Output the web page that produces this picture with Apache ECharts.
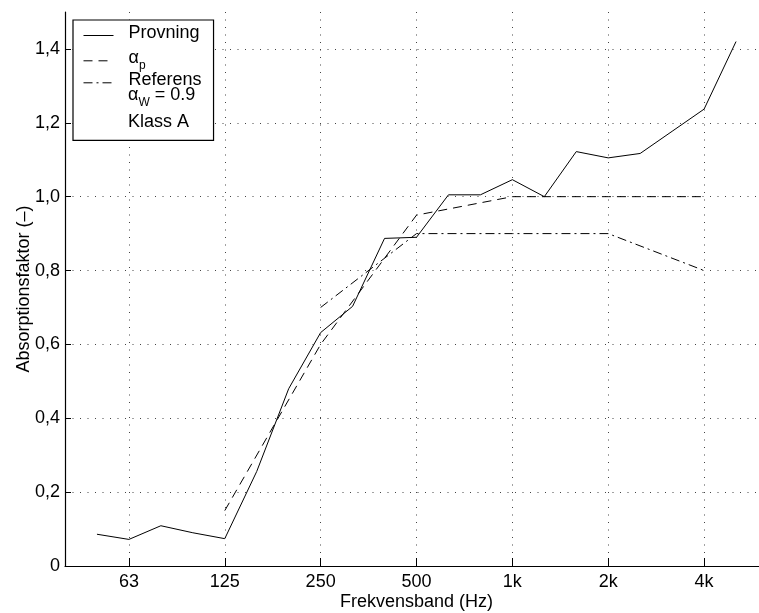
<!DOCTYPE html>
<html>
<head>
<meta charset="utf-8">
<title>Absorptionsfaktor</title>
<script src="https://cdn.jsdelivr.net/npm/echarts@6/dist/echarts.min.js"></script>
<style>
    html, body { margin: 0; padding: 0; background: #fff; }
    #chart { width: 759px; height: 613px; }
</style>
</head>
<body>
<div id="chart"></div>
<script>
// tersband 40 Hz .. 6.3 kHz (40 och 6.3k bara som marginal)
var bands = ['40', '50', '63', '80', '100', '125', '160', '200', '250', '315', '400', '500',
             '630', '800', '1k', '1.25k', '1.6k', '2k', '2.5k', '3.15k', '4k', '5k', '6.3k'];

// uppmätt absorptionsfaktor per tersband
var provning = [null, 0.086, 0.072, 0.109, 0.090, 0.074, 0.256, 0.480, 0.632, 0.703, 0.887, 0.890,
                1.005, 1.005, 1.046, 1.000, 1.122, 1.105, 1.117, 1.177, 1.237, 1.420, null];

// praktisk absorptionsfaktor, oktavband 125..4k
var alphaP = [null, null, null, null, null, 0.15, null, null, 0.60, null, null, 0.95,
              null, null, 1.00, null, null, 1.00, null, null, 1.00, null, null];

// förskjuten referenskurva, alfa_w = 0.9
var referens = [null, null, null, null, null, null, null, null, 0.70, null, null, 0.90,
                null, null, 0.90, null, null, 0.90, null, null, 0.80, null, null];

var yTicks = [0, 0.2, 0.4, 0.6, 0.8, 1.0, 1.2, 1.4];

var font = 'Liberation Sans';
var fontSize = 18;
var dotted = [1, 6.5];
var dashP = [9, 6];
var dashRef = [9, 4, 2, 4];

function octaveBand(index) {
    return index % 3 === 2;
}

var myChart = echarts.init(document.getElementById('chart'));

var option = {
    animation: false,
    backgroundColor: '#fff',
    textStyle: { fontFamily: font, fontSize: fontSize, color: '#000' },
    grid: { left: 65, top: 12, width: 703, bottom: 47, outerBoundsMode: 'none' },
    legend: {
        orient: 'vertical',
        left: 73,
        top: 20,
        padding: [3, 12, 45, 10],
        itemWidth: 30,
        itemHeight: 12,
        itemGap: -3,
        borderColor: '#000',
        borderWidth: 1.2,
        borderRadius: 0,
        backgroundColor: '#fff',
        itemStyle: { opacity: 0 },
        lineStyle: { width: 1 },
        data: ['Provning', 'αp', 'Referens'],
        formatter: function (name) {
            if (name === 'αp') return '{a|α}{s|p}';
            return name;
        },
        textStyle: {
            fontFamily: font,
            fontSize: fontSize,
            lineHeight: 20,
            color: '#000',
            padding: [0, 0, 5, 10],
            rich: {
                a: { fontFamily: font, fontSize: fontSize, lineHeight: 20, color: '#000', padding: [0, 0, 1.4, 0] },
                s: { fontFamily: font, fontSize: 12, lineHeight: 14, color: '#000', padding: [14.6, 0, 0, 0] }
            }
        }
    },
    graphic: [
        {
            type: 'text', x: 128, y: 95, z: 10,
            style: {
                text: '{a|α}{s|W}{a| = 0.9}',
                verticalAlign: 'middle',
                fill: '#000',
                font: fontSize + 'px "' + font + '"',
                rich: {
                    a: { fontFamily: font, fontSize: fontSize, lineHeight: 20, fill: '#000' },
                    s: { fontFamily: font, fontSize: 12, lineHeight: 14, fill: '#000', padding: [15, 0, 0, 0] }
                }
            }
        },
        {
            type: 'text', x: 128, y: 122, z: 10,
            style: {
                text: 'Klass A',
                verticalAlign: 'middle',
                fill: '#000',
                font: fontSize + 'px "' + font + '"'
            }
        }
    ],
    xAxis: {
        type: 'category',
        data: bands,
        boundaryGap: false,
        name: 'Frekvensband (Hz)',
        nameLocation: 'middle',
        nameGap: 27,
        nameMoveOverlap: false,
        nameTextStyle: { fontFamily: font, fontSize: fontSize, color: '#000' },
        axisLine: { lineStyle: { color: '#000', width: 1.2 } },
        axisTick: { inside: true, length: 8, interval: octaveBand, lineStyle: { color: '#000' } },
        axisLabel: { interval: octaveBand, margin: 7, fontFamily: font, fontSize: fontSize, color: '#000' },
        splitLine: { show: true, interval: octaveBand, lineStyle: { color: '#444', type: dotted, width: 1 } }
    },
    yAxis: {
        type: 'value',
        min: 0,
        max: 1.5,
        name: 'Absorptionsfaktor (–)',
        nameLocation: 'middle',
        nameGap: 32,
        nameMoveOverlap: false,
        nameTextStyle: { fontFamily: font, fontSize: fontSize, color: '#000' },
        axisLine: { show: true, lineStyle: { color: '#000', width: 1.2 } },
        axisTick: { show: true, inside: true, length: 6, customValues: yTicks, lineStyle: { color: '#000' } },
        axisLabel: {
            customValues: yTicks,
            margin: 5,
            fontFamily: font,
            fontSize: fontSize,
            color: '#000',
            formatter: function (v) {
                return v === 0 ? '0' : v.toFixed(1).replace('.', ',');
            }
        },
        splitLine: { show: true, lineStyle: { color: '#444', type: dotted, width: 1 } }
    },
    series: [
        {
            name: 'Provning',
            type: 'line',
            data: provning,
            symbol: 'none',
            lineStyle: { color: '#000', width: 1 }
        },
        {
            name: 'αp',
            type: 'line',
            data: alphaP,
            symbol: 'none',
            connectNulls: true,
            lineStyle: { color: '#000', width: 1, type: dashP }
        },
        {
            name: 'Referens',
            type: 'line',
            data: referens,
            symbol: 'none',
            connectNulls: true,
            lineStyle: { color: '#000', width: 1, type: dashRef }
        }
    ]
};

myChart.setOption(option);
</script>
</body>
</html>
